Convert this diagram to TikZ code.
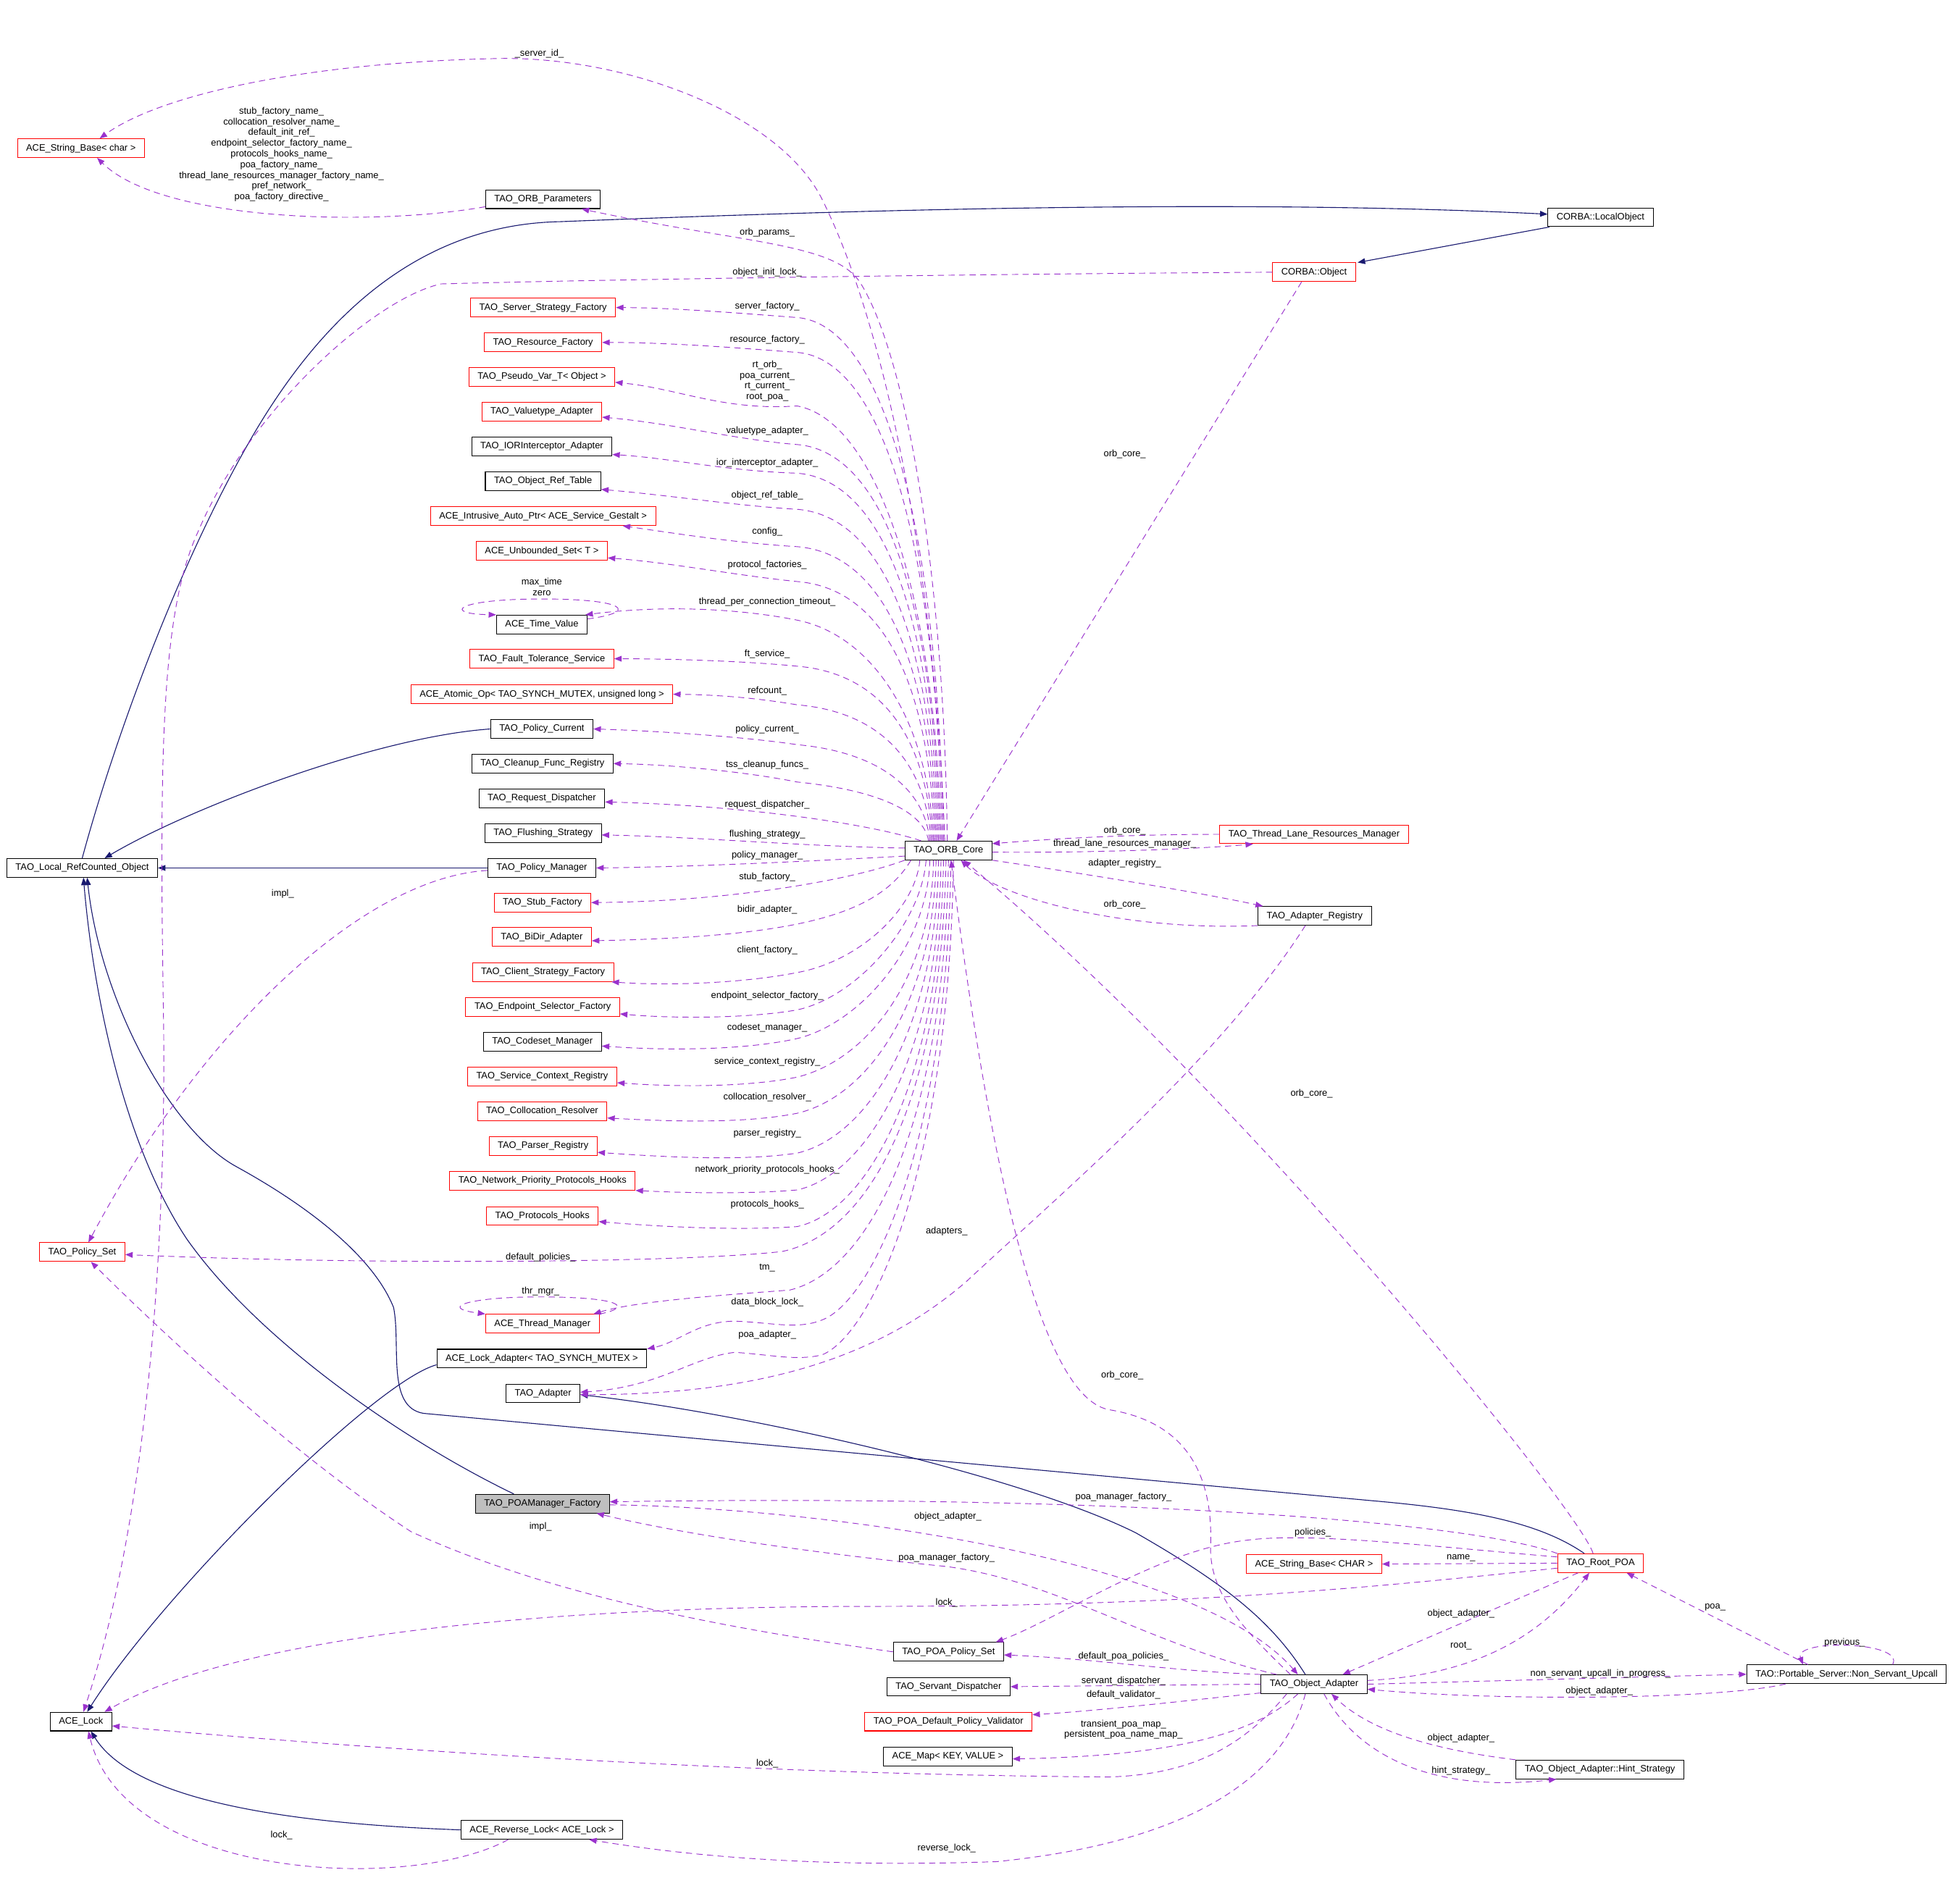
\documentclass[tikz,border=0pt]{standalone}
\usepackage{fontspec}
\setmainfont{Liberation Sans}
\usetikzlibrary{arrows.meta}
\definecolor{edgeuse}{HTML}{9A32CD}
\definecolor{edgeinh}{HTML}{191970}
\definecolor{selfgray}{HTML}{BFBFBF}
\newcommand{\graphfont}{\fontsize{7.5}{8.6}\selectfont}
\tikzset{
  cls/.style={draw=black, line width=0.6pt, fill=white, font=\graphfont, inner xsep=7pt, inner ysep=0pt, minimum height=15pt, text height=5.6pt, text depth=1.6pt},
  clsred/.style={cls, draw=red},
  clsself/.style={cls, fill=selfgray},
  lbl/.style={font=\graphfont, inner sep=0pt, align=center},
  usage/.style={draw=edgeuse, line width=0.55pt, dash pattern=on 5pt off 3.5pt, -{Triangle[length=6pt,width=4.6pt,fill=edgeuse]}},
  inherit/.style={draw=edgeinh, line width=0.65pt, -{Triangle[length=6pt,width=4.6pt,fill=edgeinh]}}
}
\begin{document}
\begin{tikzpicture}[x=1pt, y=-1pt]

\path[use as bounding box, fill=white] (0,0) rectangle (1568,1529);

\node[clsred] (sbc) at (65,119) {ACE\_String\_Base< char >}; % ACE_String_Base.char
\node[cls] (orbp) at (436,160) {TAO\_ORB\_Parameters}; % TAO_ORB_Parameters
\node[cls] (lobj) at (1285,174.5) {CORBA::LocalObject}; % CORBA.LocalObject
\node[clsred] (cobj) at (1055,218.6) {CORBA::Object}; % CORBA.Object
\node[clsred] (ssf) at (436,247) {TAO\_Server\_Strategy\_Factory};
\node[clsred] (rf) at (436,275) {TAO\_Resource\_Factory};
\node[clsred] (pvt) at (435,302.5) {TAO\_Pseudo\_Var\_T< Object >};
\node[clsred] (vta) at (435,330.5) {TAO\_Valuetype\_Adapter};
\node[cls] (iora) at (435,358.5) {TAO\_IORInterceptor\_Adapter};
\node[cls] (ort) at (436,386.5) {TAO\_Object\_Ref\_Table};
\node[clsred] (iap) at (436,414.5) {ACE\_Intrusive\_Auto\_Ptr< ACE\_Service\_Gestalt >};
\node[clsred] (ubs) at (435,442.5) {ACE\_Unbounded\_Set< T >};
\node[cls] (tv) at (435,501.5) {ACE\_Time\_Value};
\node[clsred] (fts) at (435,529) {TAO\_Fault\_Tolerance\_Service};
\node[clsred] (aop) at (435,557.5) {ACE\_Atomic\_Op< TAO\_SYNCH\_MUTEX, unsigned long >};
\node[cls] (pc) at (435,585.4) {TAO\_Policy\_Current};
\node[cls] (cfr) at (435.5,613.2) {TAO\_Cleanup\_Func\_Registry};
\node[cls] (rd) at (435,641) {TAO\_Request\_Dispatcher};
\node[cls] (fs) at (436,669) {TAO\_Flushing\_Strategy};
\node[cls] (pm) at (435,697) {TAO\_Policy\_Manager};
\node[clsred] (stf) at (435.5,724.8) {TAO\_Stub\_Factory};
\node[clsred] (bda) at (435,752.5) {TAO\_BiDir\_Adapter};
\node[clsred] (csf) at (436,780.7) {TAO\_Client\_Strategy\_Factory};
\node[clsred] (esf) at (435.7,808.5) {TAO\_Endpoint\_Selector\_Factory};
\node[cls] (csm) at (435.5,836.5) {TAO\_Codeset\_Manager};
\node[clsred] (scr) at (435.3,864.5) {TAO\_Service\_Context\_Registry};
\node[clsred] (cr) at (435.3,892.4) {TAO\_Collocation\_Resolver};
\node[clsred] (pr) at (436,920.4) {TAO\_Parser\_Registry};
\node[clsred] (npph) at (435.5,948.2) {TAO\_Network\_Priority\_Protocols\_Hooks};
\node[clsred] (ph) at (435.5,976.5) {TAO\_Protocols\_Hooks};
\node[clsred] (ps) at (66,1005.5) {TAO\_Policy\_Set};
\node[clsred] (thm) at (435.5,1063) {ACE\_Thread\_Manager};
\node[cls] (lad) at (435,1091) {ACE\_Lock\_Adapter< TAO\_SYNCH\_MUTEX >};
\node[cls] (ada) at (436,1119) {TAO\_Adapter};
\node[cls] (lrc) at (66,697) {TAO\_Local\_RefCounted\_Object};
\node[cls] (orb) at (761.5,683) {TAO\_ORB\_Core};
\node[clsred] (tlrm) at (1055,670) {TAO\_Thread\_Lane\_Resources\_Manager};
\node[cls] (areg) at (1055.5,735.5) {TAO\_Adapter\_Registry};
\node[clsself] (pmf) at (435.5,1207.5) {TAO\_POAManager\_Factory}; % this class
\node[clsred] (sbC) at (1055,1256) {ACE\_String\_Base< CHAR >};
\node[clsred] (rpoa) at (1285,1255.3) {TAO\_Root\_POA};
\node[cls] (pps) at (761.5,1326.5) {TAO\_POA\_Policy\_Set};
\node[cls] (sd) at (761.5,1354.5) {TAO\_Servant\_Dispatcher};
\node[clsred] (dpv) at (761.5,1382.5) {TAO\_POA\_Default\_Policy\_Validator};
\node[cls] (amap) at (761,1410.5) {ACE\_Map< KEY, VALUE >};
\node[cls] (oa) at (1055,1352.5) {TAO\_Object\_Adapter};
\node[cls] (nsu) at (1482.5,1344.5) {TAO::Portable\_Server::Non\_Servant\_Upcall};
\node[cls] (hint) at (1284.5,1421) {TAO\_Object\_Adapter::Hint\_Strategy};
\node[cls] (lock) at (65,1382.5) {ACE\_Lock};
\node[cls] (rlock) at (435,1469.5) {ACE\_Reverse\_Lock< ACE\_Lock >};

% inheritance
\draw[inherit] ([xshift=-41pt]lobj.south) -- ([xshift=35pt]cobj.north); % LocalObject.Object
\draw[inherit] (lrc.north) .. controls (90,600) and (140,460) .. (200,355) .. controls (260,250) and (340,180) .. (450,178) .. controls (700,168) and (1000,160) .. ([yshift=2.5pt]lobj.west); % RefCounted.LocalObject
\draw[inherit] (pc.west) .. controls (300,592) and (150,650) .. ([xshift=18pt]lrc.north); % Policy_Current
\draw[inherit] (pm.west) -- (lrc.east); % Policy_Manager
\draw[inherit] ([xshift=-23pt]pmf.north) .. controls (330,1160) and (210,1080) .. (150,995) .. controls (100,920) and (75,800) .. ([xshift=1pt]lrc.south); % POAManager_Factory
\draw[inherit] ([xshift=-13pt]rpoa.north) .. controls (1235,1222) and (1180,1212) .. (1100,1205) -- (340,1135) .. controls (310,1130) and (322,1080) .. (316,1050) .. controls (300,1010) and (250,970) .. (190,937) .. controls (135,907) and (80,800) .. ([xshift=4pt]lrc.south); % Root_POA
\draw[inherit] ([xshift=-7pt]oa.north) .. controls (1020,1300) and (980,1270) .. (912,1231) .. controls (820,1185) and (600,1135) .. ([yshift=-1pt]ada.east); % Object_Adapter
\draw[inherit] ([yshift=-5pt]lad.west) .. controls (300,1110) and (130,1280) .. ([xshift=5pt]lock.north); % Lock_Adapter
\draw[inherit] (rlock.west) .. controls (250,1465) and (110,1450) .. ([xshift=8pt]lock.south); % Reverse_Lock

% ORB parameters
\draw[usage] ([yshift=-6pt]orbp.west) .. controls (300,182) and (130,178) .. ([xshift=13pt]sbc.south);

% ORB core members, upper fan
\draw[usage] ([xshift=-3pt]orb.north) .. controls (752,480) and (715,270) .. (660,160) .. controls (625,90) and (500,45) .. (400,47) .. controls (250,50) and (130,75) .. ([xshift=15pt]sbc.north);
\draw[usage] ([xshift=-1pt]orb.north) .. controls (758,450) and (725,280) .. (690,226) .. controls (668,195) and (600,196) .. ([xshift=31pt]orbp.south);
\draw[usage] ([xshift=-4pt]orb.north) .. controls (753.5,444.5) and (715,261) .. (640,255) .. controls (600,252) and (540,247) .. (ssf.east);
\draw[usage] ([xshift=-5pt]orb.north) .. controls (752.5,460) and (715,289) .. (640,283) .. controls (600,280) and (540,275) .. (rf.east);
\draw[usage] ([xshift=-6pt]orb.north) .. controls (751.5,483.5) and (705,338) .. (640,326) .. controls (580,330) and (545,312) .. ([yshift=-4.5pt]pvt.east);
\draw[usage] ([xshift=-7pt]orb.north) .. controls (750.5,500) and (715,363) .. (640,357) .. controls (590,353) and (540,340) .. ([yshift=-4.5pt]vta.east);
\draw[usage] ([xshift=-8pt]orb.north) .. controls (749.5,513) and (715,386) .. (640,380) .. controls (580,378) and (540,368) .. ([yshift=-6.5pt]iora.east);
\draw[usage] ([xshift=-9pt]orb.north) .. controls (748.5,529) and (715,415) .. (640,409) .. controls (590,406) and (540,398) .. ([yshift=-6.5pt]ort.east);
\draw[usage] ([xshift=-10pt]orb.north) .. controls (747.5,545) and (715,445) .. (640,439) .. controls (590,436) and (540,428) .. ([xshift=64pt]iap.south);
\draw[usage] ([xshift=-11pt]orb.north) .. controls (746.5,561) and (715,473) .. (640,467) .. controls (590,462) and (540,452) .. ([yshift=-5.5pt]ubs.east);
\draw[usage] ([xshift=-12pt]orb.north) .. controls (745.5,578) and (700,510) .. (640,498) .. controls (600,490) and (540,485) .. ([xshift=35pt]tv.north);
\draw[usage] ([xshift=-13pt]orb.north) .. controls (744.5,598) and (712,541) .. (640,535) .. controls (600,531) and (540,529) .. (fts.east);
\draw[usage] ([xshift=-14pt]orb.north) .. controls (743.5,615) and (710,572) .. (640,566) .. controls (610,561) and (580,558) .. (aop.east);
\draw[usage] ([xshift=-15pt]orb.north) .. controls (742.5,633) and (705,604) .. (640,598) .. controls (600,592) and (530,587) .. (pc.east);
\draw[usage] ([xshift=-16pt]orb.north) .. controls (741.5,650) and (700,634) .. (640,628) .. controls (600,620) and (540,614) .. (cfr.east);
\draw[usage] ([xshift=-22pt]orb.north) .. controls (700,662) and (600,647) .. ([yshift=-3pt]rd.east);
\draw[usage] ([yshift=2pt]orb.west) .. controls (650,680) and (560,672) .. ([yshift=-1.5pt]fs.east);
\draw[usage] ([yshift=-4.5pt]orb.west) .. controls (640,692) and (560,696) .. (pm.east);

% ORB core members, lower fan
\draw[usage] (orb.south west) .. controls (680,708) and (580,724) .. (stf.east);
\draw[usage] ([xshift=5pt]orb.south west) .. controls (705,735) and (640,752) .. ([yshift=-3pt]bda.east);
\draw[usage] ([xshift=-23pt]orb.south) .. controls (735,730) and (690,772) .. (640,781) .. controls (600,789) and (540,792) .. ([xshift=55pt]csf.south);
\draw[usage] ([xshift=-18pt]orb.south) .. controls (740,740) and (690,800) .. (640,811) .. controls (600,818) and (540,818) .. ([yshift=-5.7pt]esf.east);
\draw[usage] ([xshift=-15pt]orb.south) .. controls (745,760) and (690,822) .. (640,834) .. controls (600,843) and (540,844) .. ([yshift=-3.5pt]csm.east);
\draw[usage] ([xshift=-12pt]orb.south) .. controls (748,780) and (700,850) .. (640,865) .. controls (600,873) and (545,873) .. ([yshift=-5pt]scr.east);
\draw[usage] ([xshift=-10pt]orb.south) .. controls (750,800) and (700,880) .. (640,894) .. controls (600,902) and (545,901) .. ([yshift=-5.4pt]cr.east);
\draw[usage] ([xshift=-8pt]orb.south) .. controls (752,820) and (700,912) .. (640,926) .. controls (600,932) and (545,930) .. ([yshift=-5pt]pr.east);
\draw[usage] ([xshift=-6pt]orb.south) .. controls (754,840) and (700,942) .. (640,955.6) .. controls (600,959) and (550,958) .. (npph.south east);
\draw[usage] ([xshift=-4pt]orb.south) .. controls (755,860) and (700,972) .. (640,985) .. controls (600,988) and (540,986) .. ([yshift=-4.5pt]ph.east);
\draw[usage] ([xshift=-2pt]orb.south) .. controls (756,880) and (700,990) .. (628,1005) .. controls (550,1014) and (300,1016) .. ([yshift=-2pt]ps.east);
\draw[usage] (orb.south) .. controls (758,900) and (700,1020) .. (634,1036) .. controls (580,1040) and (510,1045) .. ([xshift=41pt]thm.north);
\draw[usage] ([xshift=2pt]orb.south) .. controls (760,920) and (700,1045) .. (660,1060) .. controls (640,1068) and (620,1062) .. (590,1061) .. controls (560,1061) and (545,1078) .. (lad.north east);
\draw[usage] ([xshift=4pt]orb.south) .. controls (762,940) and (700,1072) .. (660,1088) .. controls (640,1093) and (620,1088) .. (590,1086) .. controls (555,1090) and (530,1114) .. ([yshift=1pt]ada.east);

% self loops
\draw[usage] ([yshift=4.5pt]tv.east) .. controls (512,492) and (505,481) .. (435,481) .. controls (365,481) and (355,493) .. (tv.north west);
\draw[usage] (thm.north east) .. controls (508,1050) and (500,1042) .. (438,1041.5) .. controls (378,1041) and (350,1050) .. (thm.north west);
\draw[usage] ([xshift=37pt]nsu.north) .. controls (1530,1318) and (1440,1316) .. ([xshift=-35pt]nsu.north);

% right hand side
\draw[usage] ([xshift=-10pt]cobj.south) -- ([xshift=6.5pt]orb.north);
\draw[usage] (cobj.west) .. controls (800,220) and (500,224) .. (354,228) .. controls (300,240) and (200,330) .. (159,427) .. controls (130,490) and (128,600) .. (131,800) .. controls (134,950) and (125,1200) .. ([xshift=2pt]lock.north);
\draw[usage] (tlrm.west) .. controls (900,670) and (840,674) .. ([yshift=5.5pt]orb.east);
\draw[usage] ([yshift=-1.3pt]orb.east) .. controls (870,685) and (960,682) .. ([xshift=-49pt]tlrm.south);
\draw[usage] (orb.south east) .. controls (860,700) and (960,716) .. ([xshift=-41.5pt]areg.north);
\draw[usage] (areg.south west) .. controls (900,748) and (800,720) .. ([xshift=10pt]orb.south);
\draw[usage] ([xshift=-7.5pt]areg.south) .. controls (980,850) and (850,960) .. (776,1029) .. controls (700,1095) and (600,1120) .. ([yshift=-1pt]ada.east);
\draw[usage] ([xshift=-6pt]rpoa.north) .. controls (1270,1215) and (1000,880) .. ([xshift=12pt]orb.south);
\draw[usage] ([xshift=-19pt]oa.north) .. controls (1000,1310) and (970,1280) .. (972,1240) .. controls (974,1170) and (940,1140) .. (890,1132) .. controls (830,1120) and (790,900) .. ([xshift=2pt]orb.south);

% root POA and object adapter
\draw[usage] (rpoa.north west) .. controls (1180,1222) and (900,1200) .. ([yshift=1.5pt]pmf.east);
\draw[usage] (rpoa.west) -- (sbC.east);
\draw[usage] ([yshift=5pt]rpoa.west) .. controls (1150,1242) and (1050,1230) .. (1000,1237) .. controls (930,1245) and (850,1300) .. ([xshift=38pt]pps.north);
\draw[usage] ([yshift=-4pt]rpoa.west) .. controls (1100,1275) and (950,1290) .. (700,1290) .. controls (400,1290) and (180,1320) .. ([xshift=19pt]lock.north);
\draw[usage] ([xshift=-18pt]rpoa.south) -- ([xshift=23pt]oa.north);
\draw[usage] ([yshift=3pt]oa.east) .. controls (1190,1345) and (1240,1310) .. ([xshift=-9pt]rpoa.south);
\draw[usage] ([yshift=-1pt]pmf.east) .. controls (650,1210) and (960,1250) .. ([xshift=-13pt]oa.north);
\draw[usage] ([xshift=-30pt]oa.north) .. controls (920,1320) and (850,1270) .. (760,1258) .. controls (680,1250) and (560,1235) .. ([xshift=43.5pt]pmf.south);
\draw[usage] (oa.north west) .. controls (940,1342) and (880,1332) .. ([yshift=-2.5pt]pps.east);
\draw[usage] (oa.west) -- (sd.east);
\draw[usage] ([yshift=-7pt]oa.west) .. controls (950,1366) and (880,1374) .. ([yshift=5.5pt]dpv.east);
\draw[usage] ([xshift=-13pt]oa.south) .. controls (1010,1390) and (950,1410) .. ([yshift=-2pt]amap.east);
\draw[usage] ([xshift=-22pt]oa.south) .. controls (1000,1400) and (960,1425) .. (890,1427) .. controls (600,1425) and (300,1405) .. ([yshift=-3.5pt]lock.east);
\draw[usage] ([xshift=-7pt]oa.south) .. controls (1030,1430) and (950,1480) .. (800,1495) .. controls (650,1500) and (550,1490) .. ([xshift=38pt]rlock.south);
\draw[usage] (oa.east) -- (nsu.west);
\draw[usage] ([xshift=-49pt]nsu.south) .. controls (1380,1365) and (1200,1366) .. ([yshift=-4pt]oa.east);
\draw[usage] ([xshift=-31pt]nsu.north) -- ([xshift=21pt]rpoa.south);
\draw[usage] ([xshift=8pt]oa.south) .. controls (1090,1410) and (1150,1440) .. ([xshift=-35pt]hint.south);
\draw[usage] (hint.north west) .. controls (1150,1405) and (1100,1390) .. ([xshift=14pt]oa.south);

% left hand side
\draw[usage] ([xshift=-27pt]rlock.south) .. controls (330,1520) and (100,1510) .. ([xshift=6pt]lock.south);
\draw[usage] ([yshift=-2pt]pm.west) .. controls (290,705) and (160,830) .. ([xshift=5pt]ps.north);
\draw[usage] (pps.west) .. controls (600,1310) and (450,1285) .. (330,1230) .. controls (230,1165) and (120,1060) .. ([xshift=7pt]ps.south);

% edge labels
\node[lbl] (lServerId) at (433,43) {\_server\_id\_};
\node[lbl] (lNames) at (226,124) {stub\_factory\_name\_\\collocation\_resolver\_name\_\\default\_init\_ref\_\\endpoint\_selector\_factory\_name\_\\protocols\_hooks\_name\_\\poa\_factory\_name\_\\thread\_lane\_resources\_manager\_factory\_name\_\\pref\_network\_\\poa\_factory\_directive\_};
\node[lbl] (lOrbParams) at (616,186.5) {orb\_params\_};
\node[lbl] (lInitLock) at (616,218.5) {object\_init\_lock\_};
\node[lbl] (lServerFac) at (616,246) {server\_factory\_};
\node[lbl] (lResFac) at (616,273) {resource\_factory\_};
\node[lbl] (lPseudo) at (616,306) {rt\_orb\_\\poa\_current\_\\rt\_current\_\\root\_poa\_};
\node[lbl] (lValue) at (616,346) {valuetype\_adapter\_};
\node[lbl] (lIor) at (616,372) {ior\_interceptor\_adapter\_};
\node[lbl] (lRefTable) at (616,398) {object\_ref\_table\_};
\node[lbl] (lConfig) at (616,427) {config\_};
\node[lbl] (lProtoFac) at (616,454) {protocol\_factories\_};
\node[lbl] (lMaxTime) at (435,471.5) {max\_time\\zero};
\node[lbl] (lTimeout) at (616,483.5) {thread\_per\_connection\_timeout\_};
\node[lbl] (lFt) at (616,525.5) {ft\_service\_};
\node[lbl] (lRefcount) at (616,555) {refcount\_};
\node[lbl] (lPolCur) at (616,585.5) {policy\_current\_};
\node[lbl] (lTss) at (616,614) {tss\_cleanup\_funcs\_};
\node[lbl] (lReqDisp) at (616,646) {request\_dispatcher\_};
\node[lbl] (lFlush) at (616,670) {flushing\_strategy\_};
\node[lbl] (lPolMan) at (616,687) {policy\_manager\_};
\node[lbl] (lStub) at (616,704.6) {stub\_factory\_};
\node[lbl] (lBidir) at (616,730.6) {bidir\_adapter\_};
\node[lbl] (lClient) at (616,763.3) {client\_factory\_};
\node[lbl] (lEndpoint) at (616,800) {endpoint\_selector\_factory\_};
\node[lbl] (lCodeset) at (616,825.6) {codeset\_manager\_};
\node[lbl] (lSvcCtx) at (616,853) {service\_context\_registry\_};
\node[lbl] (lColloc) at (616,881.4) {collocation\_resolver\_};
\node[lbl] (lParser) at (616,910) {parser\_registry\_};
\node[lbl] (lNetPrio) at (616,939.3) {network\_priority\_protocols\_hooks\_};
\node[lbl] (lProtoHooks) at (616,967) {protocols\_hooks\_};
\node[lbl] (lDefPol) at (434,1010) {default\_policies\_};
\node[lbl] (lTm) at (616,1018) {tm\_};
\node[lbl] (lThrMgr) at (434,1037.3) {thr\_mgr\_};
\node[lbl] (lDataBlock) at (616,1045.5) {data\_block\_lock\_};
\node[lbl] (lPoaAdapter) at (616,1072) {poa\_adapter\_};
\node[lbl] (lImplPm) at (227,717.5) {impl\_};
\node[lbl] (lOrbCoreObj) at (903,365) {orb\_core\_};
\node[lbl] (lOrbCoreTlrm) at (903,667) {orb\_core\_};
\node[lbl] (lTlrm) at (903,677.5) {thread\_lane\_resources\_manager\_};
\node[lbl] (lAdReg) at (903,693.6) {adapter\_registry\_};
\node[lbl] (lOrbCoreReg) at (903,726.4) {orb\_core\_};
\node[lbl] (lOrbCorePoa) at (1053,878) {orb\_core\_};
\node[lbl] (lAdapters) at (760,988.8) {adapters\_};
\node[lbl] (lOrbCoreOa) at (901,1104.7) {orb\_core\_};
\node[lbl] (lPmfPoa) at (902,1202) {poa\_manager\_factory\_};
\node[lbl] (lObjAdPmf) at (761,1218) {object\_adapter\_};
\node[lbl] (lImplPps) at (434,1226) {impl\_};
\node[lbl] (lPolicies) at (1054,1231) {policies\_};
\node[lbl] (lPmfOa) at (760,1251) {poa\_manager\_factory\_};
\node[lbl] (lName) at (1173,1251) {name\_};
\node[lbl] (lLockPoa) at (760,1287) {lock\_};
\node[lbl] (lPoa) at (1377,1291) {poa\_};
\node[lbl] (lObjAdPoa) at (1173,1296) {object\_adapter\_};
\node[lbl] (lPrevious) at (1481,1319) {previous\_};
\node[lbl] (lRoot) at (1173,1322) {root\_};
\node[lbl] (lDefPoaPol) at (902,1330) {default\_poa\_policies\_};
\node[lbl] (lNsuProg) at (1285,1344) {non\_servant\_upcall\_in\_progress\_};
\node[lbl] (lServDisp) at (902,1350) {servant\_dispatcher\_};
\node[lbl] (lObjAdNsu) at (1284,1358) {object\_adapter\_};
\node[lbl] (lDefVal) at (902,1361) {default\_validator\_};
\node[lbl] (lPoaMaps) at (902,1389) {transient\_poa\_map\_\\persistent\_poa\_name\_map\_};
\node[lbl] (lObjAdHint) at (1173,1396) {object\_adapter\_};
\node[lbl] (lLockOa) at (616,1416) {lock\_};
\node[lbl] (lHint) at (1173,1422) {hint\_strategy\_};
\node[lbl] (lLockRev) at (226,1474) {lock\_};
\node[lbl] (lRevLock) at (760,1484) {reverse\_lock\_};

\end{tikzpicture}
\end{document}
